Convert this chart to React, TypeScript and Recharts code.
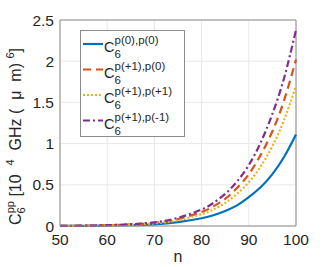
import React from 'react';
import { LineChart, Line, XAxis, YAxis, CartesianGrid, ReferenceLine, Legend } from 'recharts';

// n values and C6 curves in units of 10^4 GHz (um)^6
const nValues = [50, 55, 60, 65, 70, 75, 80, 82.5, 85, 87.5, 90, 92.5, 95, 97.5, 100];
const c00 = [0.001, 0.002, 0.005, 0.01, 0.02, 0.046, 0.094, 0.13, 0.183, 0.25, 0.35, 0.47, 0.63, 0.84, 1.11];
const c10 = [0.002, 0.004, 0.009, 0.019, 0.038, 0.084, 0.17, 0.238, 0.33, 0.46, 0.63, 0.86, 1.15, 1.53, 2.02];
const c11 = [0.001, 0.003, 0.007, 0.015, 0.032, 0.071, 0.144, 0.2, 0.28, 0.39, 0.53, 0.72, 0.97, 1.29, 1.7];
const c1m = [0.002, 0.004, 0.01, 0.021, 0.045, 0.099, 0.2, 0.28, 0.39, 0.54, 0.74, 1.01, 1.36, 1.8, 2.38];

const xTicks = [50, 60, 70, 80, 90, 100];
const yTicks = [0, 0.5, 1, 1.5, 2, 2.5];

const series = [
  { key: 'c00', values: c00, sup: 'p(0),p(0)', color: '#0072BD', dash: undefined },
  { key: 'c10', values: c10, sup: 'p(+1),p(0)', color: '#D95319', dash: '8 5' },
  { key: 'c11', values: c11, sup: 'p(+1),p(+1)', color: '#EDB120', dash: '2 2' },
  { key: 'c1m', values: c1m, sup: 'p(+1),p(-1)', color: '#7E2F8E', dash: '7 3 2 3' },
];

const data = nValues.map((n, i) => {
  const row: Record<string, number> = { n };
  series.forEach((s) => { row[s.key] = s.values[i]; });
  return row;
});

const FONT = '"Liberation Sans", Arial, Helvetica, sans-serif';
const TXT = '#262626';

function LegendBox() {
  return (
    <svg width={105} height={107} style={{ display: 'block' }}>
      <rect x={0.5} y={0.5} width={104} height={106} fill="#fff" stroke="#8c8c8c" />
      {series.map((s, i) => {
        const ly = 14 + i * 25.5;
        return (
          <g key={s.key}>
            <line x1={3} x2={23} y1={ly} y2={ly} stroke={s.color} strokeWidth={2.2} strokeDasharray={s.dash} />
            <text x={24} y={ly + 8} fontFamily={FONT} fontSize={14.5} fill={TXT}>C</text>
            <text x={34.5} y={ly + 14} fontFamily={FONT} fontSize={11.5} fill={TXT}>6</text>
            <text x={34.5} y={ly} fontFamily={FONT} fontSize={11.5} fill={TXT}>{s.sup}</text>
          </g>
        );
      })}
    </svg>
  );
}

function YLabel() {
  return (
    <text transform="rotate(-90)" x={-225} y={21} fontFamily={FONT} fontSize={16} fill={TXT} style={{ whiteSpace: 'pre' }}>
      <tspan>C</tspan>
      <tspan fontSize={11} dy={4}>6</tspan>
      <tspan fontSize={11} dx={-6} dy={-11}>pp</tspan>
      <tspan dy={7}>{' [10  '}</tspan>
      <tspan fontSize={11} dy={-7}>4</tspan>
      <tspan dy={7}>{'  GHz (  '}</tspan>
      <tspan>μ</tspan>
      <tspan>{'  m) '}</tspan>
      <tspan fontSize={11} dy={-7}>6</tspan>
      <tspan dy={7}>]</tspan>
    </text>
  );
}

function XLabel() {
  return (
    <text x={178} y={262} textAnchor="middle" fontFamily={FONT} fontSize={16} fill={TXT}>n</text>
  );
}

export default function App() {
  return (
    <div style={{ position: 'absolute', left: 0, top: 0 }}>
      <LineChart width={327} height={267} data={data} margin={{ top: 20, right: 31, bottom: 0, left: 0 }}>
        <CartesianGrid stroke="#e8e8e8" />
        <XAxis
          dataKey="n"
          type="number"
          domain={[50, 100]}
          ticks={xTicks}
          height={41}
          tickLine={false}
          stroke="#8c8c8c"
          tick={{ fill: TXT, fontSize: 15.5, fontFamily: FONT }}
          label={<XLabel />}
        />
        <YAxis
          type="number"
          domain={[0, 2.5]}
          ticks={yTicks}
          width={60}
          tickLine={false}
          tickSize={4}
          stroke="#8c8c8c"
          tick={{ fill: TXT, fontSize: 15.5, fontFamily: FONT }}
          label={<YLabel />}
        />
        <ReferenceLine y={2.5} stroke="#8c8c8c" />
        <ReferenceLine x={100} stroke="#8c8c8c" />
        {series.map((s) => (
          <Line
            key={s.key}
            type="natural"
            dataKey={s.key}
            stroke={s.color}
            strokeWidth={2.2}
            strokeDasharray={s.dash}
            dot={false}
            isAnimationActive={false}
          />
        ))}
        <Legend
          layout="horizontal"
          verticalAlign="middle"
          align="center"
          content={<LegendBox />}
          wrapperStyle={{ left: 80, top: 30, width: 105, height: 107 }}
        />
      </LineChart>
    </div>
  );
}
